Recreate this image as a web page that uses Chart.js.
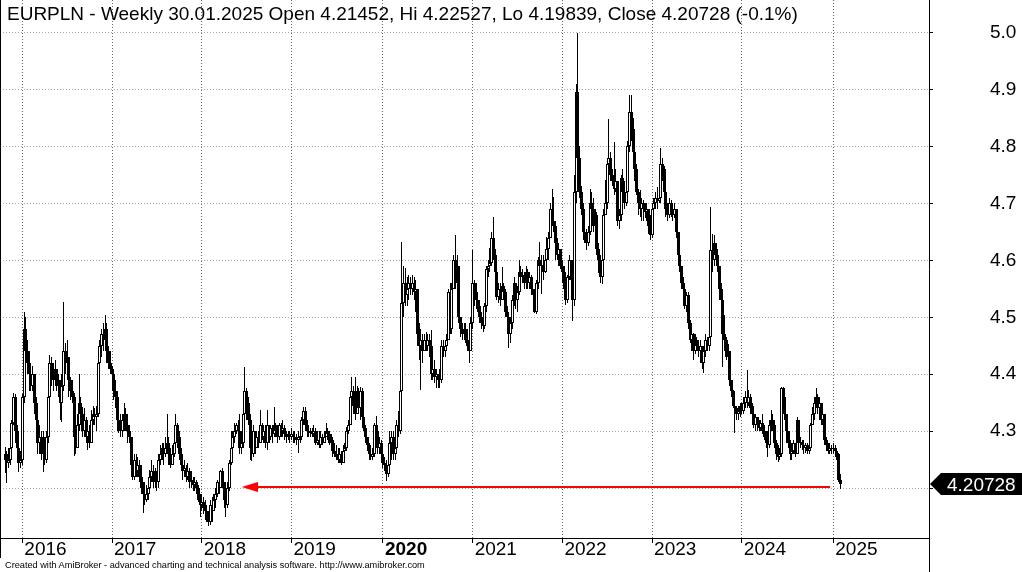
<!DOCTYPE html>
<html>
<head>
<meta charset="utf-8">
<script src="https://cdn.jsdelivr.net/npm/chart.js"></script>
<style>
html,body{margin:0;padding:0;background:#fff;overflow:hidden}
#wrap{position:relative;width:1022px;height:572px}
canvas{position:absolute;left:0;top:0}
#title{position:absolute;left:7px;top:4px;font-family:"Liberation Sans",Arial,sans-serif;font-size:19px;line-height:19px;color:#000;white-space:nowrap}
#foot{position:absolute;left:5px;top:561px;font-family:"Liberation Sans",Arial,sans-serif;font-size:9.2px;line-height:9.2px;color:#000;white-space:nowrap}
</style>
</head>
<body>
<div id="wrap">
<canvas id="c" width="1022" height="572"></canvas>
<div id="title">EURPLN - Weekly 30.01.2025 Open 4.21452, Hi 4.22527, Lo 4.19839, Close 4.20728 (-0.1%)</div>
<div id="foot">Created with AmiBroker - advanced charting and technical analysis software. http://www.amibroker.com</div>
</div>
<script>
// ---- weekly EURPLN bars (Oct 2015 .. 30 Jan 2025) ----
const closes = [
// 2015
4.26,4.245,4.25,4.27,4.314,4.36,4.30,4.27,4.245,4.25,
// 2016
4.36,4.48,4.44,4.42,4.40,4.38,4.40,4.35,4.32,4.28,
4.29,4.26,4.27,4.25,4.29,4.36,4.42,4.40,4.39,4.41,
4.39,4.38,4.35,4.38,4.44,4.42,4.43,4.39,4.37,4.36,
4.29,4.27,4.31,4.35,4.33,4.30,4.32,4.29,4.30,4.28,
4.32,4.33,4.325,4.33,4.42,4.45,4.47,4.46,4.48,4.44,
4.42,4.41,
// 2017
4.40,4.37,4.36,4.32,4.31,4.30,4.32,4.33,4.31,4.30,
4.29,4.24,4.22,4.25,4.23,4.24,4.22,4.20,4.19,4.18,
4.19,4.20,4.22,4.23,4.21,4.22,4.21,4.25,4.26,4.27,
4.26,4.27,4.28,4.26,4.24,4.26,4.28,4.31,4.29,4.26,
4.24,4.23,4.235,4.22,4.23,4.21,4.215,4.205,4.21,4.20,
4.18,4.17,
// 2018
4.175,4.165,4.16,4.15,4.14,4.17,4.16,4.18,4.19,4.21,
4.20,4.23,4.21,4.18,4.17,4.20,4.245,4.27,4.29,4.30,
4.31,4.30,4.27,4.28,4.33,4.37,4.35,4.32,4.27,4.26,
4.30,4.27,4.29,4.28,4.31,4.29,4.30,4.28,4.31,4.29,
4.305,4.295,4.31,4.30,4.29,4.31,4.30,4.305,4.295,4.29,
4.295,4.29,
// 2019
4.295,4.29,4.288,4.285,4.29,4.29,4.32,4.335,4.31,4.30,
4.296,4.30,4.295,4.30,4.28,4.285,4.276,4.29,4.28,4.29,
4.30,4.295,4.28,4.285,4.265,4.26,4.255,4.25,4.26,4.245,
4.265,4.27,4.30,4.31,4.36,4.37,4.345,4.33,4.37,4.34,
4.37,4.325,4.305,4.29,4.275,4.26,4.255,4.26,4.31,4.30,
4.27,4.28,4.26,
// 2020
4.245,4.24,4.225,4.24,4.28,4.29,4.26,4.27,4.31,4.30,
4.37,4.525,4.56,4.54,4.55,4.56,4.55,4.56,4.545,4.55,
4.47,4.45,4.46,4.44,4.46,4.45,4.46,4.45,4.40,4.41,
4.395,4.40,4.39,4.39,4.45,4.44,4.45,4.46,4.545,4.48,
4.55,4.60,4.56,4.59,4.50,4.48,4.47,4.48,4.46,4.45,
4.44,4.49,
// 2021
4.56,4.54,4.53,4.52,4.50,4.49,4.485,4.52,4.585,4.59,
4.595,4.64,4.61,4.58,4.535,4.55,4.53,4.555,4.545,4.51,
4.50,4.47,4.49,4.53,4.56,4.53,4.545,4.58,4.57,4.575,
4.56,4.58,4.56,4.57,4.55,4.54,4.51,4.56,4.60,4.59,
4.59,4.58,4.60,4.62,4.64,4.69,4.67,4.66,4.63,4.61,
4.62,4.59,
// 2022
4.58,4.55,4.53,4.57,4.60,4.565,4.53,4.72,4.896,4.78,
4.72,4.69,4.65,4.64,4.63,4.65,4.70,4.69,4.66,4.68,
4.62,4.60,4.57,4.60,4.68,4.70,4.77,4.78,4.75,4.74,
4.725,4.74,4.67,4.68,4.745,4.72,4.70,4.72,4.80,4.86,
4.83,4.79,4.76,4.72,4.70,4.69,4.70,4.69,4.685,4.69,
4.66,4.645,
// 2023
4.69,4.70,4.71,4.705,4.71,4.77,4.76,4.72,4.69,4.68,
4.70,4.69,4.68,4.69,4.65,4.61,4.59,4.56,4.55,4.52,
4.54,4.49,4.46,4.47,4.44,4.46,4.45,4.44,4.45,4.42,
4.44,4.46,4.45,4.466,4.618,4.60,4.63,4.61,4.59,4.55,
4.53,4.47,4.46,4.43,4.44,4.39,4.37,4.345,4.34,4.33,
4.335,4.345,4.335,
// 2024
4.35,4.36,4.35,4.36,4.34,4.33,4.31,4.325,4.31,4.305,
4.315,4.30,4.29,4.28,4.275,4.31,4.32,4.31,4.28,4.26,
4.255,4.26,4.375,4.36,4.33,4.30,4.28,4.26,4.265,4.28,
4.26,4.32,4.28,4.28,4.275,4.27,4.275,4.265,4.27,4.31,
4.33,4.35,4.36,4.34,4.35,4.32,4.33,4.285,4.275,4.265,
4.27,4.268,
// 2025
4.27,4.265,4.26,4.21452,4.20728
];
const highs = [
// 2015
4.273,4.265,4.27,4.30,4.32,4.367,4.365,4.31,4.275,4.265,
// 2016
4.365,4.51,4.50,4.46,4.44,4.42,4.415,4.40,4.36,4.33,
4.31,4.30,4.30,4.29,4.30,4.37,4.434,4.43,4.42,4.425,
4.41,4.40,4.39,4.40,4.527,4.455,4.46,4.43,4.395,4.39,
4.367,4.30,4.33,4.40,4.36,4.343,4.34,4.325,4.31,4.31,
4.337,4.345,4.34,4.345,4.43,4.46,4.48,4.49,4.504,4.49,
4.45,4.44,
// 2017
4.415,4.41,4.39,4.37,4.34,4.33,4.33,4.349,4.34,4.33,
4.31,4.29,4.26,4.26,4.26,4.255,4.25,4.24,4.21,4.21,
4.205,4.21,4.232,4.25,4.24,4.236,4.23,4.26,4.276,4.28,
4.28,4.29,4.33,4.29,4.27,4.275,4.29,4.33,4.315,4.30,
4.27,4.25,4.25,4.24,4.245,4.235,4.23,4.22,4.22,4.215,
4.205,4.19,
// 2018
4.19,4.185,4.18,4.17,4.16,4.18,4.185,4.19,4.20,4.215,
4.225,4.232,4.235,4.21,4.20,4.21,4.25,4.30,4.30,4.315,
4.315,4.32,4.33,4.30,4.34,4.413,4.375,4.36,4.33,4.29,
4.31,4.30,4.30,4.30,4.337,4.315,4.31,4.31,4.337,4.31,
4.31,4.31,4.343,4.315,4.31,4.315,4.315,4.32,4.31,4.30,
4.30,4.30,
// 2019
4.305,4.30,4.30,4.295,4.30,4.30,4.325,4.343,4.343,4.32,
4.31,4.305,4.305,4.31,4.305,4.30,4.30,4.30,4.295,4.30,
4.314,4.305,4.30,4.295,4.29,4.28,4.275,4.27,4.27,4.265,
4.275,4.28,4.308,4.32,4.37,4.396,4.38,4.396,4.38,4.375,
4.378,4.375,4.33,4.31,4.29,4.28,4.27,4.27,4.315,4.326,
4.31,4.29,4.285,
// 2020
4.265,4.255,4.25,4.25,4.30,4.30,4.30,4.28,4.32,4.335,
4.38,4.633,4.59,4.586,4.571,4.575,4.57,4.575,4.57,4.565,
4.55,4.49,4.48,4.47,4.47,4.475,4.47,4.47,4.478,4.43,
4.425,4.41,4.40,4.41,4.46,4.46,4.46,4.47,4.55,4.56,
4.56,4.61,4.644,4.61,4.59,4.50,4.49,4.49,4.49,4.48,
4.46,4.50,
// 2021
4.619,4.565,4.56,4.545,4.53,4.51,4.50,4.525,4.59,4.60,
4.621,4.65,4.677,4.62,4.59,4.56,4.56,4.589,4.56,4.55,
4.52,4.50,4.50,4.54,4.57,4.56,4.555,4.60,4.59,4.585,
4.58,4.59,4.585,4.58,4.575,4.55,4.545,4.565,4.606,4.633,
4.61,4.61,4.612,4.641,4.65,4.70,4.726,4.711,4.67,4.64,
4.63,4.62,
// 2022
4.60,4.59,4.55,4.575,4.61,4.60,4.58,4.75,4.91,5.00,
4.80,4.73,4.70,4.67,4.655,4.66,4.726,4.72,4.71,4.69,
4.685,4.63,4.61,4.615,4.69,4.741,4.776,4.849,4.79,4.76,
4.808,4.76,4.74,4.69,4.75,4.76,4.74,4.725,4.81,4.89,
4.89,4.85,4.80,4.77,4.725,4.723,4.71,4.706,4.70,4.70,
4.69,4.68,
// 2023
4.70,4.71,4.72,4.729,4.72,4.797,4.78,4.765,4.72,4.70,
4.71,4.706,4.694,4.70,4.69,4.65,4.615,4.59,4.57,4.55,
4.545,4.545,4.495,4.48,4.472,4.47,4.466,4.46,4.46,4.45,
4.45,4.47,4.466,4.48,4.694,4.647,4.645,4.625,4.62,4.59,
4.56,4.53,4.504,4.465,4.454,4.44,4.39,4.373,4.35,4.345,
4.345,4.35,4.35,
// 2024
4.36,4.37,4.407,4.372,4.365,4.35,4.345,4.33,4.325,4.32,
4.32,4.331,4.31,4.30,4.30,4.32,4.337,4.33,4.32,4.285,
4.275,4.27,4.378,4.378,4.36,4.33,4.30,4.285,4.28,4.285,
4.28,4.325,4.32,4.29,4.285,4.285,4.28,4.28,4.275,4.315,
4.343,4.36,4.375,4.366,4.36,4.35,4.345,4.33,4.29,4.28,
4.28,4.275,
// 2025
4.28,4.275,4.27,4.262,4.22527
];
const lows = [
// 2015
4.226,4.209,4.235,4.24,4.256,4.31,4.28,4.26,4.229,4.235,
// 2016
4.24,4.35,4.42,4.40,4.37,4.37,4.37,4.33,4.30,4.26,
4.26,4.25,4.229,4.24,4.245,4.28,4.36,4.38,4.37,4.38,
4.37,4.36,4.32,4.317,4.37,4.40,4.41,4.36,4.355,4.35,
4.256,4.26,4.27,4.30,4.31,4.29,4.29,4.28,4.267,4.27,
4.28,4.31,4.31,4.30,4.325,4.41,4.43,4.44,4.45,4.42,
4.41,4.40,
// 2017
4.38,4.355,4.34,4.30,4.296,4.29,4.29,4.30,4.30,4.28,
4.28,4.22,4.215,4.215,4.22,4.22,4.21,4.19,4.156,4.17,
4.175,4.18,4.20,4.21,4.20,4.20,4.195,4.20,4.24,4.25,
4.24,4.255,4.26,4.24,4.235,4.24,4.255,4.27,4.27,4.25,
4.23,4.215,4.22,4.21,4.215,4.20,4.20,4.195,4.195,4.19,
4.175,4.15,
// 2018
4.16,4.155,4.144,4.14,4.133,4.135,4.14,4.16,4.165,4.185,
4.19,4.20,4.20,4.165,4.15,4.165,4.195,4.24,4.26,4.28,
4.295,4.29,4.26,4.26,4.27,4.32,4.32,4.31,4.25,4.247,
4.255,4.26,4.275,4.27,4.28,4.285,4.28,4.27,4.267,4.28,
4.285,4.28,4.29,4.29,4.28,4.285,4.29,4.29,4.285,4.28,
4.285,4.28,
// 2019
4.285,4.28,4.28,4.275,4.261,4.28,4.285,4.31,4.30,4.29,
4.29,4.29,4.29,4.29,4.275,4.275,4.27,4.27,4.275,4.28,
4.29,4.285,4.275,4.275,4.255,4.255,4.25,4.245,4.244,4.24,
4.245,4.26,4.265,4.295,4.31,4.345,4.33,4.32,4.33,4.33,
4.32,4.31,4.30,4.28,4.265,4.25,4.25,4.25,4.255,4.29,
4.26,4.26,4.255,
// 2020
4.235,4.23,4.212,4.22,4.235,4.25,4.25,4.25,4.26,4.29,
4.295,4.36,4.50,4.52,4.52,4.53,4.54,4.54,4.53,4.51,
4.45,4.425,4.372,4.42,4.44,4.44,4.44,4.43,4.39,4.39,
4.385,4.375,4.375,4.375,4.385,4.43,4.43,4.44,4.46,4.47,
4.47,4.55,4.55,4.53,4.49,4.465,4.46,4.46,4.455,4.44,
4.42,4.44,
// 2021
4.48,4.52,4.515,4.51,4.49,4.48,4.475,4.48,4.51,4.57,
4.58,4.59,4.60,4.56,4.53,4.525,4.52,4.53,4.53,4.50,
4.49,4.446,4.455,4.48,4.52,4.515,4.51,4.54,4.56,4.56,
4.55,4.55,4.55,4.55,4.54,4.51,4.507,4.505,4.55,4.58,
4.541,4.565,4.577,4.595,4.60,4.64,4.66,4.65,4.60,4.60,
4.59,4.585,
// 2022
4.56,4.54,4.521,4.525,4.565,4.55,4.494,4.52,4.70,4.75,
4.71,4.68,4.635,4.63,4.618,4.625,4.645,4.68,4.65,4.655,
4.61,4.577,4.56,4.559,4.60,4.68,4.69,4.76,4.74,4.73,
4.715,4.72,4.66,4.655,4.67,4.70,4.69,4.695,4.715,4.79,
4.81,4.785,4.74,4.715,4.68,4.677,4.67,4.67,4.675,4.67,
4.647,4.635,
// 2023
4.64,4.68,4.69,4.69,4.70,4.70,4.74,4.71,4.677,4.67,
4.675,4.677,4.67,4.675,4.64,4.60,4.58,4.55,4.53,4.515,
4.51,4.48,4.455,4.44,4.425,4.435,4.44,4.43,4.419,4.41,
4.402,4.43,4.44,4.44,4.46,4.58,4.59,4.60,4.58,4.53,
4.513,4.413,4.44,4.425,4.42,4.38,4.36,4.34,4.296,4.32,
4.32,4.325,4.33,
// 2024
4.33,4.34,4.34,4.345,4.33,4.325,4.305,4.30,4.30,4.30,
4.30,4.295,4.284,4.27,4.255,4.27,4.30,4.30,4.27,4.25,
4.246,4.25,4.255,4.33,4.32,4.28,4.27,4.25,4.25,4.26,
4.255,4.26,4.27,4.27,4.267,4.26,4.262,4.26,4.26,4.27,
4.31,4.32,4.345,4.33,4.32,4.31,4.31,4.275,4.265,4.26,
4.26,4.26,
// 2025
4.26,4.255,4.25,4.21,4.19839
];
const firstOpen = 4.25;                 // open of the first weekly bar
const yearTickIndex = [10, 62, 114, 166, 219, 271, 323, 375, 427, 480];   // first bar of each year
const yearLabels = ['2016','2017','2018','2019','2020','2021','2022','2023','2024','2025'];
const boldYear = '2020';
const priceTicks = [4.2, 4.3, 4.4, 4.5, 4.6, 4.7, 4.8, 4.9, 5.0];
const priceTickLabels = ['', '4.3', '4.4', '4.5', '4.6', '4.7', '4.8', '4.9', '5.0'];
const arrowX = [141.8, 478.1];          // red support arrow, bar-index units
const arrowLevel = 4.202;

// weekly FX bars open at the previous week's close
const opens = closes.map((c, i) => i === 0 ? firstOpen : closes[i - 1]);

const FONT = '"Liberation Sans", Arial, sans-serif';
Chart.defaults.font.family = FONT;
Chart.defaults.color = '#000';

const arrowHead = document.createElement('canvas');
arrowHead.width = 16; arrowHead.height = 10;
(function () {
  const g = arrowHead.getContext('2d');
  g.fillStyle = '#ff0000';
  g.beginPath(); g.moveTo(0, 5); g.lineTo(16, 0); g.lineTo(16, 10); g.closePath(); g.fill();
})();

// snap bar elements (positions computed by the scales) to whole pixels for crisp candles
const snapPlugin = {
  id: 'snap',
  beforeDatasetsDraw(chart) {
    chart.data.datasets.forEach((ds, di) => {
      const meta = chart.getDatasetMeta(di);
      if (meta.type !== 'bar') return;
      meta.data.forEach(el => {
        el.x = Math.floor(el.x) + 0.5;
        el.y = Math.round(el.y);
        el.base = Math.round(el.base);
        if (el.y === el.base) el.y = el.base - 1;
      });
    });
  }
};

const framePlugin = {
  id: 'frame',
  afterDraw(chart) {
    const { ctx, chartArea: a, scales: { y } } = chart;
    ctx.save();
    ctx.strokeStyle = '#000'; ctx.lineWidth = 1;
    ctx.beginPath();
    ctx.moveTo(0.5, 0); ctx.lineTo(0.5, a.bottom + 20);
    ctx.moveTo(a.right + 0.5, a.bottom); ctx.lineTo(a.right + 0.5, chart.height);
    ctx.stroke();
    const last = closes[closes.length - 1];
    const py = Math.round(y.getPixelForValue(last));
    const x0 = a.right + 1;
    ctx.fillStyle = '#000';
    ctx.beginPath();
    ctx.moveTo(x0, py);
    ctx.lineTo(x0 + 11, py - 11);
    ctx.lineTo(chart.width, py - 11);
    ctx.lineTo(chart.width, py + 11);
    ctx.lineTo(x0 + 11, py + 11);
    ctx.closePath(); ctx.fill();
    ctx.fillStyle = '#fff';
    ctx.font = '19px ' + FONT;
    ctx.textBaseline = 'alphabetic';
    ctx.textAlign = 'left';
    ctx.fillText(last.toFixed(5), x0 + 17, py + 7);
    ctx.restore();
  }
};

new Chart(document.getElementById('c'), {
  type: 'bar',
  data: {
    datasets: [
      {
        type: 'line', order: 0,
        data: arrowX.map(x => ({ x, y: arrowLevel })),
        borderColor: '#ff0000', borderWidth: 2,
        pointStyle: arrowHead, pointRadius: [6, 0], pointHoverRadius: 0,
        tension: 0, fill: false
      },
      {
        order: 1,
        data: closes.map((c, i) => ({ x: i, y: [opens[i], c] })),
        backgroundColor: (c) => (c.dataIndex !== undefined && closes[c.dataIndex] >= opens[c.dataIndex]) ? '#ffffff' : '#000000',
        borderColor: '#000', borderWidth: 1, borderSkipped: false,
        barThickness: 3, grouped: false, minBarLength: 1, inflateAmount: 0
      },
      {
        order: 2,
        data: closes.map((c, i) => ({ x: i, y: [lows[i], highs[i]] })),
        backgroundColor: '#000', borderWidth: 0,
        barThickness: 1, grouped: false, inflateAmount: 0
      }
    ]
  },
  options: {
    responsive: false, animation: false, devicePixelRatio: 1,
    layout: { padding: 0, autoPadding: false },
    events: [],
    plugins: { legend: { display: false }, tooltip: { enabled: false }, title: { display: false } },
    scales: {
      x: {
        type: 'linear', position: 'bottom', offset: false,
        min: -2.93, max: 535.46,
        afterBuildTicks: s => { s.ticks = yearTickIndex.map(v => ({ value: v })); },
        afterFit: s => { s.height = 34; s.paddingLeft = 0; s.paddingRight = 0; s.paddingTop = 0; s.paddingBottom = 0; },
        grid: { color: '#6a6a6a', lineWidth: 1, offset: false, drawTicks: true, tickLength: 5, tickColor: '#000', tickBorderDash: [] },
        border: { display: true, color: '#000', width: 1, dash: [1, 2] },
        ticks: {
          autoSkip: false, maxRotation: 0, minRotation: 0, align: 'start', labelOffset: 2, padding: -1, color: '#000',
          font: c => ({ size: 19, lineHeight: 0.78, weight: (c.tick && c.tick.label === boldYear) ? 'bold' : 'normal' }),
          callback: (v, i) => yearLabels[i]
        }
      },
      y: {
        type: 'linear', position: 'right',
        min: 4.1124, max: 5.0573,
        afterBuildTicks: s => { s.ticks = priceTicks.map(v => ({ value: v })); },
        afterFit: s => { s.width = 93; s.paddingLeft = 0; s.paddingRight = 0; s.paddingTop = 0; s.paddingBottom = 0; },
        grid: { color: '#a8a8a8', lineWidth: 1, drawTicks: true, tickLength: 4, tickColor: '#000', tickBorderDash: [] },
        border: { display: true, color: '#000', width: 1, dash: [1, 2] },
        ticks: { padding: 57, crossAlign: 'near', color: '#000', font: { size: 19 }, callback: (v, i) => priceTickLabels[i] }
      }
    }
  },
  plugins: [snapPlugin, framePlugin]
});
</script>
</body>
</html>
